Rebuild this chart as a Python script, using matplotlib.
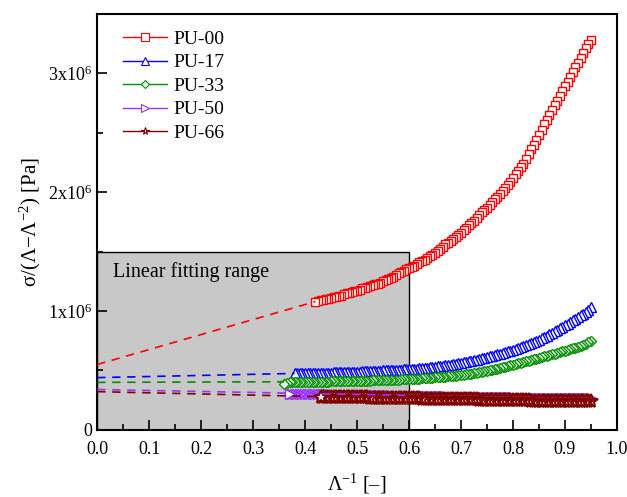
import matplotlib
matplotlib.use("Agg")
import matplotlib.pyplot as plt
from matplotlib.patches import Rectangle
from matplotlib.lines import Line2D
from matplotlib.ticker import MultipleLocator, FixedLocator

plt.rcParams['font.family'] = ['Liberation Serif', 'DejaVu Serif']
plt.rcParams['mathtext.fontset'] = 'custom'
plt.rcParams['mathtext.rm'] = 'Liberation Serif'
plt.rcParams['mathtext.it'] = 'Liberation Serif:italic'

# ---- data (x = inverse stretch, y in units of 1e6 Pa) ----
lam_inv = [0.360, 0.365, 0.370, 0.375, 0.380, 0.385, 0.390, 0.395,
           0.400, 0.405, 0.410, 0.415, 0.420, 0.425, 0.430, 0.435, 0.440, 0.445,
           0.450, 0.455, 0.460, 0.465, 0.470, 0.475, 0.480, 0.485, 0.490, 0.495,
           0.500, 0.505, 0.510, 0.515, 0.520, 0.525, 0.530, 0.535, 0.540, 0.545,
           0.550, 0.555, 0.560, 0.565, 0.570, 0.575, 0.580, 0.585, 0.590, 0.595,
           0.600, 0.605, 0.610, 0.615, 0.620, 0.625, 0.630, 0.635, 0.640, 0.645,
           0.650, 0.655, 0.660, 0.665, 0.670, 0.675, 0.680, 0.685, 0.690, 0.695,
           0.700, 0.705, 0.710, 0.715, 0.720, 0.725, 0.730, 0.735, 0.740, 0.745,
           0.750, 0.755, 0.760, 0.765, 0.770, 0.775, 0.780, 0.785, 0.790, 0.795,
           0.800, 0.805, 0.810, 0.815, 0.820, 0.825, 0.830, 0.835, 0.840, 0.845,
           0.850, 0.855, 0.860, 0.865, 0.870, 0.875, 0.880, 0.885, 0.890, 0.895,
           0.900, 0.905, 0.910, 0.915, 0.920, 0.925, 0.930, 0.935, 0.940, 0.945,
           0.950]

# PU-00: 0.420 .. 0.950
pu00 = [1.080, 1.085, 1.090, 1.095, 1.100, 1.105,
        1.110, 1.115, 1.120, 1.125, 1.130, 1.140, 1.150, 1.155, 1.160, 1.165,
        1.170, 1.180, 1.190, 1.195, 1.200, 1.210, 1.220, 1.225, 1.230, 1.240,
        1.250, 1.260, 1.270, 1.280, 1.290, 1.305, 1.320, 1.330, 1.340, 1.350,
        1.360, 1.370, 1.380, 1.395, 1.410, 1.420, 1.430, 1.445, 1.460, 1.475,
        1.490, 1.505, 1.520, 1.540, 1.560, 1.575, 1.590, 1.605, 1.620, 1.640,
        1.660, 1.680, 1.700, 1.720, 1.740, 1.760, 1.780, 1.805, 1.830, 1.850,
        1.870, 1.895, 1.920, 1.940, 1.960, 1.985, 2.010, 2.035, 2.060, 2.090,
        2.120, 2.150, 2.180, 2.210, 2.240, 2.280, 2.320, 2.360, 2.400, 2.440,
        2.480, 2.525, 2.570, 2.610, 2.650, 2.690, 2.730, 2.770, 2.810, 2.850,
        2.890, 2.930, 2.970, 3.010, 3.050, 3.090, 3.130, 3.170, 3.210, 3.245,
        3.280]

# PU-17: 0.380 .. 0.950
pu17 = [0.475, 0.475, 0.476, 0.476,
        0.477, 0.477, 0.478, 0.478, 0.479, 0.479, 0.480, 0.480, 0.481, 0.481,
        0.482, 0.483, 0.484, 0.484, 0.485, 0.486, 0.487, 0.487, 0.488, 0.489,
        0.490, 0.491, 0.492, 0.493, 0.494, 0.495, 0.496, 0.497, 0.498, 0.499,
        0.500, 0.501, 0.502, 0.503, 0.504, 0.505, 0.507, 0.508, 0.509, 0.510,
        0.512, 0.513, 0.515, 0.516, 0.518, 0.520, 0.522, 0.524, 0.527, 0.529,
        0.532, 0.535, 0.538, 0.541, 0.544, 0.547, 0.550, 0.553, 0.557, 0.561,
        0.565, 0.569, 0.573, 0.577, 0.582, 0.587, 0.592, 0.597, 0.602, 0.607,
        0.613, 0.618, 0.624, 0.630, 0.636, 0.642, 0.648, 0.654, 0.661, 0.668,
        0.675, 0.682, 0.690, 0.697, 0.705, 0.713, 0.722, 0.731, 0.740, 0.750,
        0.760, 0.770, 0.780, 0.792, 0.804, 0.817, 0.830, 0.842, 0.855, 0.867,
        0.880, 0.893, 0.907, 0.921, 0.935, 0.949, 0.963, 0.979, 0.995, 1.012,
        1.030]

# PU-33: 0.360 .. 0.950
pu33 = [0.390, 0.398, 0.400, 0.400, 0.401, 0.401, 0.402, 0.402,
        0.403, 0.403, 0.404, 0.404, 0.405, 0.405, 0.406, 0.406, 0.407, 0.407,
        0.408, 0.408, 0.409, 0.409, 0.410, 0.410, 0.411, 0.411, 0.412, 0.412,
        0.413, 0.413, 0.414, 0.414, 0.415, 0.415, 0.416, 0.416, 0.417, 0.417,
        0.418, 0.419, 0.420, 0.421, 0.422, 0.423, 0.424, 0.425, 0.426, 0.427,
        0.428, 0.429, 0.430, 0.431, 0.432, 0.433, 0.435, 0.436, 0.438, 0.439,
        0.441, 0.442, 0.444, 0.446, 0.448, 0.450, 0.452, 0.454, 0.457, 0.459,
        0.462, 0.465, 0.468, 0.471, 0.474, 0.477, 0.481, 0.485, 0.489, 0.493,
        0.497, 0.501, 0.506, 0.510, 0.515, 0.520, 0.526, 0.531, 0.537, 0.542,
        0.548, 0.553, 0.559, 0.564, 0.570, 0.576, 0.582, 0.588, 0.594, 0.600,
        0.606, 0.612, 0.618, 0.624, 0.630, 0.636, 0.642, 0.648, 0.654, 0.660,
        0.666, 0.672, 0.679, 0.685, 0.692, 0.699, 0.707, 0.716, 0.725, 0.736,
        0.748]

# PU-50: 0.370 .. 0.950
pu50 = [0.303, 0.303, 0.302, 0.302, 0.302, 0.301,
        0.301, 0.301, 0.300, 0.300, 0.300, 0.299, 0.299, 0.298, 0.298, 0.298,
        0.297, 0.297, 0.297, 0.296, 0.296, 0.295, 0.295, 0.295, 0.295, 0.294,
        0.294, 0.293, 0.293, 0.293, 0.293, 0.292, 0.292, 0.291, 0.291, 0.290,
        0.290, 0.290, 0.290, 0.289, 0.289, 0.288, 0.288, 0.288, 0.288, 0.287,
        0.287, 0.286, 0.286, 0.286, 0.286, 0.285, 0.285, 0.284, 0.284, 0.283,
        0.283, 0.283, 0.283, 0.282, 0.282, 0.281, 0.281, 0.281, 0.281, 0.280,
        0.280, 0.279, 0.279, 0.279, 0.279, 0.278, 0.278, 0.277, 0.277, 0.276,
        0.276, 0.276, 0.276, 0.275, 0.275, 0.274, 0.274, 0.274, 0.274, 0.273,
        0.273, 0.272, 0.272, 0.272, 0.272, 0.271, 0.271, 0.270, 0.270, 0.270,
        0.270, 0.269, 0.269, 0.268, 0.268, 0.268, 0.268, 0.267, 0.267, 0.267,
        0.267, 0.266, 0.266, 0.266, 0.266, 0.266, 0.266, 0.266, 0.266, 0.266,
        0.267]

# PU-66: 0.430 .. 0.950
pu66 = [0.280, 0.280, 0.279, 0.279,
        0.278, 0.278, 0.278, 0.277, 0.277, 0.276, 0.276, 0.275, 0.275, 0.274,
        0.274, 0.274, 0.274, 0.273, 0.273, 0.272, 0.272, 0.271, 0.271, 0.270,
        0.270, 0.270, 0.270, 0.269, 0.269, 0.268, 0.268, 0.267, 0.267, 0.266,
        0.266, 0.266, 0.266, 0.265, 0.265, 0.264, 0.264, 0.263, 0.263, 0.262,
        0.262, 0.262, 0.262, 0.261, 0.261, 0.260, 0.260, 0.259, 0.259, 0.258,
        0.258, 0.258, 0.258, 0.257, 0.257, 0.256, 0.256, 0.255, 0.255, 0.254,
        0.254, 0.254, 0.254, 0.253, 0.253, 0.252, 0.252, 0.251, 0.251, 0.250,
        0.250, 0.250, 0.250, 0.249, 0.249, 0.248, 0.248, 0.247, 0.247, 0.246,
        0.246, 0.246, 0.246, 0.245, 0.245, 0.244, 0.244, 0.243, 0.243, 0.242,
        0.242, 0.242, 0.242, 0.241, 0.241, 0.240, 0.240, 0.240, 0.240, 0.240,
        0.241]

labels = ['PU-00', 'PU-17', 'PU-33', 'PU-50', 'PU-66']
series = [pu00, pu17, pu33, pu50, pu66]

# linear-fit extrapolation lines: (x_start, y_start) -> (x_end, y_end)
fit_x0 = [0.0, 0.0, 0.0, 0.0, 0.0]
fit_y0 = [0.55, 0.44, 0.40, 0.34, 0.322]
fit_x1 = [0.42, 0.38, 0.36, 0.60, 0.43]
fit_y1 = [1.08, 0.475, 0.405, 0.29, 0.28]

colors = ['#ff0000', '#0000ff', '#009000', '#9933ff', '#800000']
markers = ['s', '^', 'D', '>', '*']
msizes = [6.0, 6.5, 5.0, 7.0, 10.0]
medges = [1.0, 1.0, 1.0, 1.0, 1.5]

yticks = [0, 1, 2, 3]
yticklabels = ['0', r'1x10$^{6}$', r'2x10$^{6}$', r'3x10$^{6}$']
xticks = [0.0, 0.1, 0.2, 0.3, 0.4, 0.5, 0.6, 0.7, 0.8, 0.9, 1.0]

fig = plt.figure(figsize=(6.27, 4.97), dpi=100)
ax = fig.add_axes([0.155, 0.135, 0.829, 0.837])

ax.add_patch(Rectangle((0.0, 0.0), 0.6, 1.5, facecolor='#c8c8c8',
                       edgecolor='black', linewidth=1.0, zorder=0))
ax.text(0.03, 1.33, 'Linear fitting range', fontsize=14.5,
        va='center', ha='left', zorder=1)

for i, (ys, lab) in enumerate(zip(series, labels)):
    xs = lam_inv[len(lam_inv) - len(ys):]
    # draw from high to low inverse stretch (order of measurement)
    ax.plot(xs[::-1], ys[::-1], linestyle='none',
            marker=markers[i], markersize=msizes[i],
            markerfacecolor='white', markeredgecolor=colors[i],
            markeredgewidth=medges[i], zorder=2 + i)

for i in range(len(labels)):
    ax.plot([fit_x0[i], fit_x1[i]], [fit_y0[i], fit_y1[i]], linestyle=(0, (5, 4)),
            color=colors[i], linewidth=1.2, zorder=8)

leg_handles = [Line2D([], [], color=colors[i], linewidth=1.0, marker=markers[i],
                      markersize=5.5 if markers[i] != 'D' else 4.5,
                      markerfacecolor='white',
                      markeredgecolor=colors[i], markeredgewidth=0.8)
               for i in range(len(labels))]
ax.legend(leg_handles, labels, loc='upper left', bbox_to_anchor=(0.017, 1.0),
          frameon=False, fontsize=14, handlelength=2.3, handletextpad=0.3,
          labelspacing=0.3, borderaxespad=0.35, borderpad=0.5)

ax.set_xlim(0.0, 1.0)
ax.set_ylim(0.0, 3.5)
ax.xaxis.set_major_locator(FixedLocator(xticks))
ax.xaxis.set_minor_locator(MultipleLocator(0.05))
ax.set_xticklabels(['%.1f' % v for v in xticks])
ax.yaxis.set_major_locator(FixedLocator(yticks))
ax.yaxis.set_minor_locator(MultipleLocator(0.5))
ax.set_yticklabels(yticklabels)

ax.tick_params(which='both', direction='in', labelsize=13, width=1.2)
ax.tick_params(which='major', length=7)
ax.tick_params(which='minor', length=4)
ax.tick_params(axis='x', pad=8)
for s in ax.spines.values():
    s.set_linewidth(1.5)

ax.set_xlabel(r'Λ$^{-1}$ [–]', fontsize=14.5, labelpad=10)
ax.set_ylabel(r'σ/(Λ−Λ$^{-2}$) [Pa]', fontsize=15, labelpad=4)

fig.savefig('out.png', dpi=100)
